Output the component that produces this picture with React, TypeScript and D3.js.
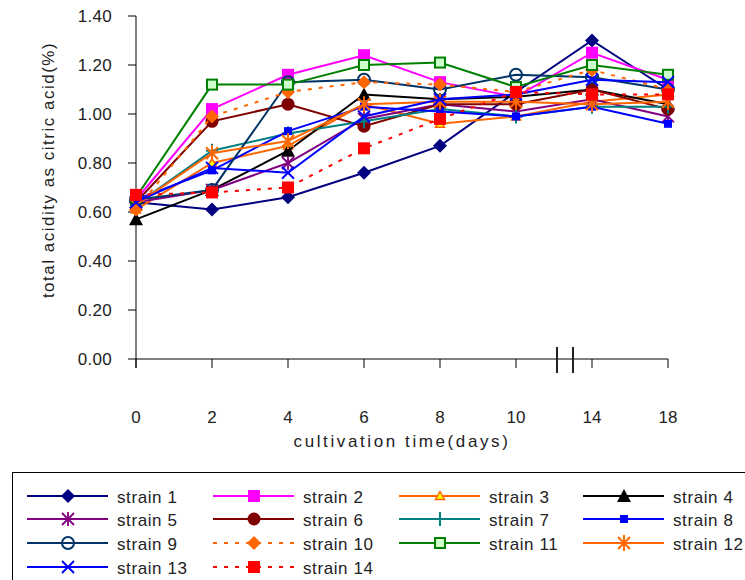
import React from "react";
import * as d3 from "d3";

const categories = ["0", "2", "4", "6", "8", "10", "14", "18"];
const yTicks = [0, 0.2, 0.4, 0.6, 0.8, 1.0, 1.2, 1.4];

const strain1 = [0.64, 0.61, 0.66, 0.76, 0.87, 1.09, 1.30, 1.10];
const strain2 = [0.65, 1.02, 1.16, 1.24, 1.13, 1.07, 1.25, 1.14];
const strain3 = [0.61, 0.80, 0.87, 1.04, 0.96, 0.99, 1.05, 1.08];
const strain4 = [0.57, 0.69, 0.85, 1.08, 1.06, 1.07, 1.10, 1.04];
const strain5 = [0.64, 0.69, 0.80, 0.98, 1.04, 1.01, 1.06, 0.99];
const strain6 = [0.64, 0.97, 1.04, 0.95, 1.04, 1.04, 1.10, 1.02];
const strain7 = [0.63, 0.85, 0.92, 0.97, 1.02, 0.99, 1.03, 1.03];
const strain8 = [0.65, 0.77, 0.93, 1.03, 1.01, 0.99, 1.03, 0.96];
const strain9 = [0.65, 0.69, 1.13, 1.14, 1.10, 1.16, 1.15, 1.10];
const strain10 = [0.61, 0.99, 1.09, 1.13, 1.12, 1.09, 1.18, 1.10];
const strain11 = [0.66, 1.12, 1.12, 1.20, 1.21, 1.11, 1.20, 1.16];
const strain12 = [0.63, 0.84, 0.89, 1.04, 1.05, 1.05, 1.04, 1.05];
const strain13 = [0.64, 0.78, 0.76, 0.99, 1.06, 1.08, 1.14, 1.13];
const strain14 = [0.67, 0.68, 0.70, 0.86, 0.98, 1.09, 1.08, 1.08];

type Marker = "diamond" | "square" | "triangle" | "star" | "circle" | "plus" | "smallsquare" | "ocircle" | "osquare" | "asterisk" | "x" | "tri";

const series: { name: string; values: number[]; color: string; marker: Marker; dash?: string; fill?: string }[] = [
  { name: "strain 1", values: strain1, color: "#000080", marker: "diamond" },
  { name: "strain 2", values: strain2, color: "#FF00FF", marker: "square" },
  { name: "strain 3", values: strain3, color: "#FF6600", marker: "tri", fill: "#FFFF00" },
  { name: "strain 4", values: strain4, color: "#000000", marker: "triangle" },
  { name: "strain 5", values: strain5, color: "#800080", marker: "star" },
  { name: "strain 6", values: strain6, color: "#800000", marker: "circle" },
  { name: "strain 7", values: strain7, color: "#008080", marker: "plus" },
  { name: "strain 8", values: strain8, color: "#0000FF", marker: "smallsquare" },
  { name: "strain 9", values: strain9, color: "#003366", marker: "ocircle" },
  { name: "strain 10", values: strain10, color: "#FF6600", marker: "diamond", dash: "4,7" },
  { name: "strain 11", values: strain11, color: "#008000", marker: "osquare", fill: "#CCFFCC" },
  { name: "strain 12", values: strain12, color: "#FF6600", marker: "asterisk" },
  { name: "strain 13", values: strain13, color: "#0000FF", marker: "x" },
  { name: "strain 14", values: strain14, color: "#FF0000", marker: "square", dash: "4,7" },
];

const FONT = "'Liberation Sans', Arial, sans-serif";
const TEXT = "#222";

function MarkerShape({ m, color, fill, x, y }: { m: Marker; color: string; fill?: string; x: number; y: number }) {
  switch (m) {
    case "diamond":
      return <path d={`M${x},${y - 7}L${x + 7},${y}L${x},${y + 7}L${x - 7},${y}Z`} fill={color} />;
    case "square":
      return <rect x={x - 6} y={y - 6} width={12} height={12} fill={color} />;
    case "smallsquare":
      return <rect x={x - 4} y={y - 4} width={8} height={8} fill={color} />;
    case "triangle":
      return <path d={`M${x},${y - 7}L${x + 7},${y + 6}L${x - 7},${y + 6}Z`} fill={color} />;
    case "tri":
      return <path d={`M${x},${y - 4.5}L${x + 4.5},${y + 3.5}L${x - 4.5},${y + 3.5}Z`} fill={fill} stroke={color} strokeWidth={1.5} />;
    case "circle":
      return <circle cx={x} cy={y} r={6.5} fill={color} />;
    case "ocircle":
      return <circle cx={x} cy={y} r={6} fill="none" stroke={color} strokeWidth={2} />;
    case "osquare":
      return <rect x={x - 5} y={y - 5} width={10} height={10} fill={fill} stroke={color} strokeWidth={2} />;
    case "plus":
      return (
        <g stroke={color} strokeWidth={2}>
          <line x1={x - 6} x2={x + 6} y1={y} y2={y} />
          <line x1={x} x2={x} y1={y - 7} y2={y + 7} />
        </g>
      );
    case "x":
      return (
        <g stroke={color} strokeWidth={2}>
          <line x1={x - 6} x2={x + 6} y1={y - 6} y2={y + 6} />
          <line x1={x - 6} x2={x + 6} y1={y + 6} y2={y - 6} />
        </g>
      );
    case "star":
      return (
        <g stroke={color} strokeWidth={1.8}>
          <line x1={x - 6} x2={x + 6} y1={y - 6} y2={y + 6} />
          <line x1={x - 6} x2={x + 6} y1={y + 6} y2={y - 6} />
          <line x1={x} x2={x} y1={y - 7} y2={y + 7} />
        </g>
      );
    case "asterisk":
      return (
        <g stroke={color} strokeWidth={2}>
          <line x1={x - 6} x2={x + 6} y1={y - 6} y2={y + 6} />
          <line x1={x - 6} x2={x + 6} y1={y + 6} y2={y - 6} />
          <line x1={x} x2={x} y1={y - 8} y2={y + 8} />
        </g>
      );
  }
  return null;
}

export default function App() {
  const W = 745, H = 580;
  const x = d3.scalePoint<string>().domain(categories).range([136, 668]);
  const y = d3.scaleLinear().domain([0, 1.4]).range([359, 16]);
  const line = d3
    .line<number>()
    .x((_, i) => x(categories[i]) as number)
    .y((d) => y(d));

  const legendCols = [27, 213, 399, 583];
  const legendRows = [496, 519, 543, 567];

  return (
    <svg width={W} height={H} style={{ position: "absolute", left: 0, top: 0, background: "#fff" }} fontFamily={FONT}>
      {/* y axis */}
      <line x1={136} x2={136} y1={y(1.4)} y2={368} stroke="#000" strokeWidth={1} />
      {yTicks.map((t) => (
        <g key={t}>
          <line x1={128} x2={136} y1={y(t)} y2={y(t)} stroke="#000" />
          <text x={112} y={y(t)} dy="0.36em" textAnchor="end" fontSize={17} letterSpacing={0.3} fill={TEXT}>
            {t.toFixed(2)}
          </text>
        </g>
      ))}
      {/* x axis */}
      <line x1={136} x2={668} y1={y(0)} y2={y(0)} stroke="#000" />
      {categories.map((c) => (
        <g key={c}>
          <line x1={x(c)} x2={x(c)} y1={y(0)} y2={368} stroke="#000" />
          <text x={x(c)} y={423} textAnchor="middle" fontSize={17} fill={TEXT}>
            {c}
          </text>
        </g>
      ))}
      {/* break marks */}
      <line x1={557} x2={557} y1={347} y2={373} stroke="#222" strokeWidth={2} />
      <line x1={573} x2={573} y1={347} y2={373} stroke="#222" strokeWidth={2} />

      <text x={402} y={447} textAnchor="middle" fontSize={17} letterSpacing={2.6} fill={TEXT}>
        cultivation time(days)
      </text>
      <text transform="translate(54,170) rotate(-90)" textAnchor="middle" fontSize={17} letterSpacing={1.5} fill={TEXT}>
        total acidity as citric acid(%)
      </text>

      {/* series */}
      {series.map((s) => (
        <g key={s.name}>
          <path d={line(s.values) || ""} fill="none" stroke={s.color} strokeWidth={2} strokeDasharray={s.dash} />
          {s.values.map((v, i) => (
            <MarkerShape key={i} m={s.marker} color={s.color} fill={s.fill} x={x(categories[i]) as number} y={y(v)} />
          ))}
        </g>
      ))}

      {/* legend */}
      <rect x={12.5} y={472.5} width={760} height={120} fill="#fff" stroke="#000" strokeWidth={1} />
      {series.map((s, i) => {
        const lx = legendCols[i % 4];
        const ly = legendRows[Math.floor(i / 4)];
        return (
          <g key={s.name}>
            <line x1={lx} x2={lx + 81} y1={ly} y2={ly} stroke={s.color} strokeWidth={2} strokeDasharray={s.dash} />
            <MarkerShape m={s.marker} color={s.color} fill={s.fill} x={lx + 41} y={ly} />
            <text x={lx + 90} y={ly + 7} fontSize={17} letterSpacing={0.6} fill={TEXT}>
              {s.name}
            </text>
          </g>
        );
      })}
    </svg>
  );
}
